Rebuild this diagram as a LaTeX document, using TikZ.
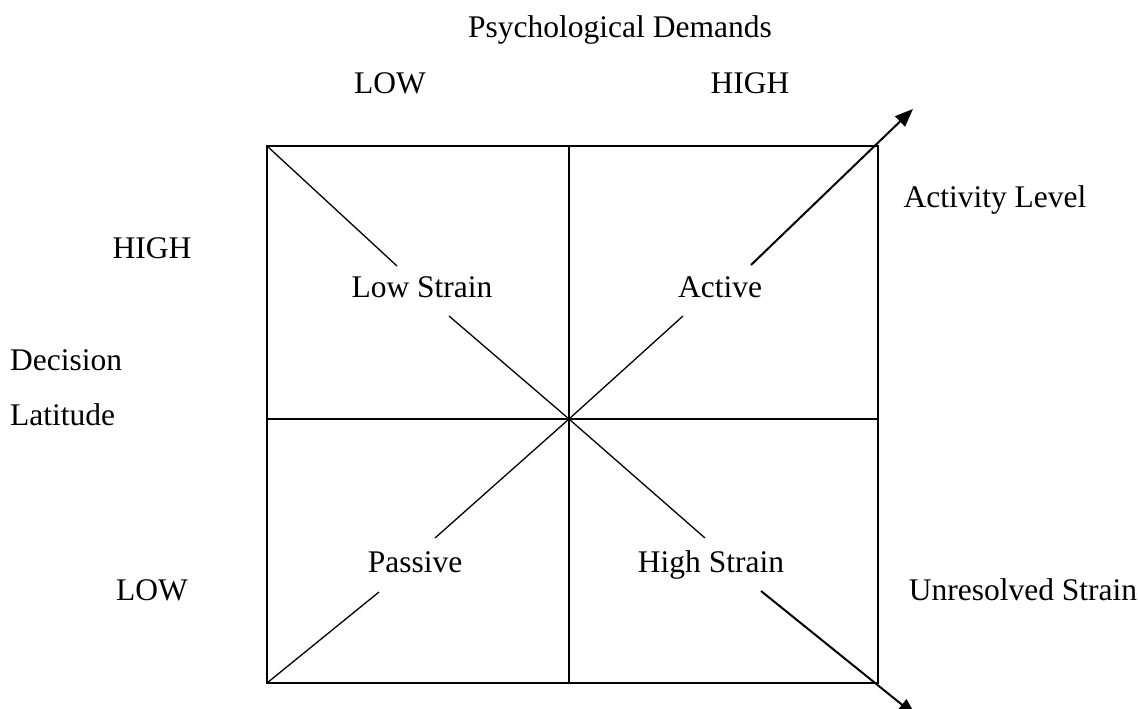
\documentclass[tikz,border=0pt]{standalone}
\usepackage{fontspec}
\setmainfont{Liberation Serif}
\usetikzlibrary{arrows.meta}
\begin{document}
\begin{tikzpicture}[x=1pt,y=-1pt,
  lbl/.style={inner sep=0pt,anchor=base,font=\fontsize{31.5}{38}\selectfont},
  lbll/.style={lbl,anchor=base west},
  frame/.style={line width=2pt},
  diag/.style={line width=1.3pt},
  arr/.style={line width=2pt,-{Triangle[length=18pt,width=14pt]}}]
\useasboundingbox (0,0) rectangle (1138,709);
% box
\coordinate (TL) at (267,146);
\coordinate (TR) at (878,146);
\coordinate (BL) at (267,683);
\coordinate (BR) at (878,683);
\coordinate (TM) at (569,146);
\coordinate (BM) at (569,683);
\coordinate (LM) at (267,419);
\coordinate (RM) at (878,419);
\coordinate (C) at (569,419);
\draw[frame] (TL) rectangle (BR);
\draw[frame] (TM) -- (BM);
\draw[frame] (LM) -- (RM);
% diagonal segments
\coordinate (a1) at (397,266);
\coordinate (a2) at (449,316);
\coordinate (b1) at (683,316);
\coordinate (b2) at (751,265);
\coordinate (b3) at (913,109);
\coordinate (c1) at (379,592);
\coordinate (c2) at (435,538);
\coordinate (d1) at (705,538);
\coordinate (d2) at (761,591);
\coordinate (d3) at (916,716);
\draw[diag] (TL) -- (a1);
\draw[diag] (a2) -- (C);
\draw[diag] (C) -- (b1);
\draw[arr] (b2) -- (b3);
\draw[diag] (BL) -- (c1);
\draw[diag] (c2) -- (C);
\draw[diag] (C) -- (d1);
\draw[arr] (d2) -- (d3);
% labels
\node[lbl] (title) at (620,38) {Psychological Demands};
\node[lbl] (plow) at (390,93) {LOW};
\node[lbl] (phigh) at (750,93) {HIGH};
\node[lbl] (act) at (995,207) {Activity Level};
\node[lbl] (dhigh) at (152,258) {HIGH};
\node[lbl] (ls) at (422,297) {Low Strain};
\node[lbl] (ac) at (720,297) {Active};
\node[lbll] (dec) at (10,370) {Decision};
\node[lbll] (lat) at (10,425) {Latitude};
\node[lbl] (pas) at (415,572) {Passive};
\node[lbl] (hs) at (711,572) {High Strain};
\node[lbl] (dlow) at (152,600) {LOW};
\node[lbl] (us) at (1023,600) {Unresolved Strain};
\end{tikzpicture}
\end{document}
